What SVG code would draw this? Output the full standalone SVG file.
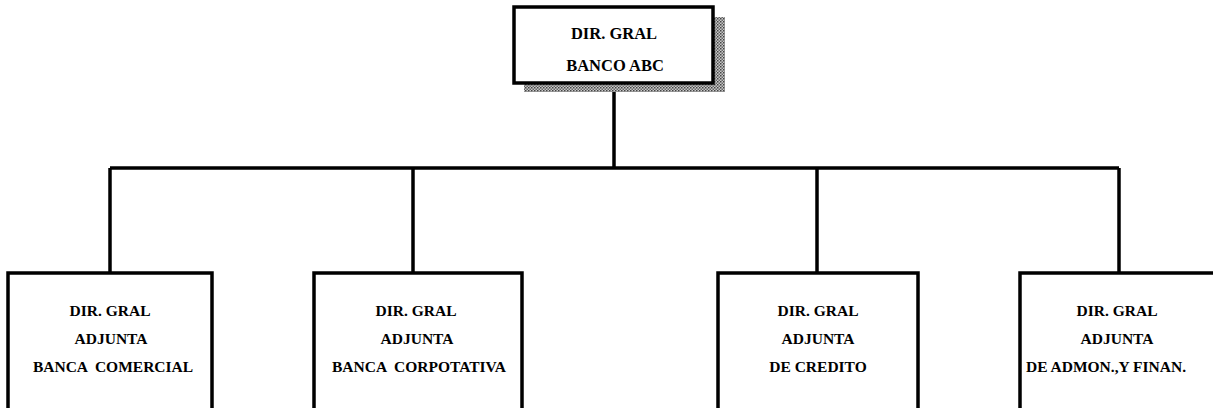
<svg xmlns="http://www.w3.org/2000/svg" width="1213" height="408" viewBox="0 0 1213 408">
<defs>
<pattern id="dots" width="3" height="3" patternUnits="userSpaceOnUse">
<rect width="3" height="3" fill="#c8c8c8"/>
<rect width="1.5" height="1.5" fill="#444"/>
<rect x="1.5" y="1.5" width="1.5" height="1.5" fill="#666"/>
</pattern>
<style>
.box{fill:#fff;stroke:#000;stroke-width:3.5}
.ln{fill:none;stroke:#000;stroke-width:3.5}
.t{font-family:"Liberation Serif","Times New Roman",serif;font-weight:bold;font-size:15.5px;text-anchor:middle;fill:#000}
.tt{font-size:16.5px}
</style>
</defs>
<g id="connectors">
<path class="ln" d="M614 92 V168"/>
<path class="ln" d="M110 168 H1119"/>
<path class="ln" d="M110 168 V273"/>
<path class="ln" d="M413 168 V273"/>
<path class="ln" d="M817 168 V273"/>
<path class="ln" d="M1119 168 V273"/>
</g>
<g id="top">
<rect x="524" y="17" width="201" height="75" fill="url(#dots)"/>
<rect class="box" x="514" y="7" width="199" height="76"/>
<text class="t tt" x="614" y="39">DIR. GRAL</text>
<text class="t tt" x="615" y="71">BANCO ABC</text>
</g>
<g id="n1">
<rect class="box" x="8" y="273" width="204" height="150"/>
<text class="t" x="110" y="316">DIR. GRAL</text>
<text class="t" x="111" y="344">ADJUNTA</text>
<text class="t" x="113" y="372" xml:space="preserve">BANCA  COMERCIAL</text>
</g>
<g id="n2">
<rect class="box" x="314" y="273" width="208" height="150"/>
<text class="t" x="416" y="316">DIR. GRAL</text>
<text class="t" x="417" y="344">ADJUNTA</text>
<text class="t" x="419" y="372" xml:space="preserve">BANCA  CORPOTATIVA</text>
</g>
<g id="n3">
<rect class="box" x="718" y="273" width="200" height="150"/>
<text class="t" x="818" y="316">DIR. GRAL</text>
<text class="t" x="818" y="344">ADJUNTA</text>
<text class="t" x="818" y="372">DE CREDITO</text>
</g>
<g id="n4">
<rect class="box" x="1020" y="273" width="220" height="150"/>
<text class="t" x="1117" y="316">DIR. GRAL</text>
<text class="t" x="1117" y="344">ADJUNTA</text>
<text class="t" x="1106" y="372">DE ADMON.,Y FINAN.</text>
</g>
</svg>
